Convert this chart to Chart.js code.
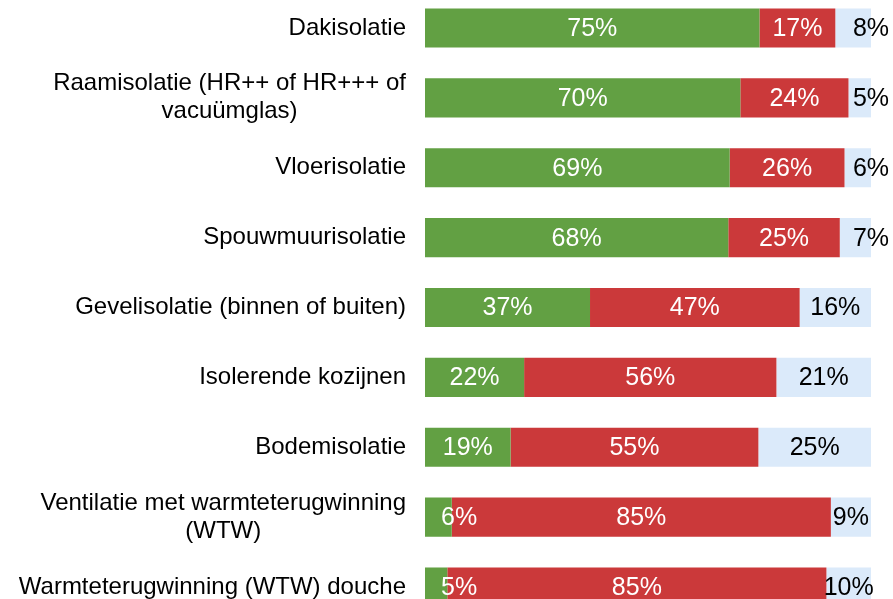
<!DOCTYPE html>
<html>
<head>
<meta charset="utf-8">
<script src="https://cdn.jsdelivr.net/npm/chart.js@4/dist/chart.umd.min.js"></script>
<style>
  html, body { margin: 0; padding: 0; background: #fff; overflow: hidden; }
  #wrap { position: absolute; left: 0; top: -7px; width: 893px; height: 629px; }
</style>
</head>
<body>
<div id="wrap"><canvas id="chart"></canvas></div>
<script>
// Categories (multi-line labels as arrays)
const categories = [
  'Dakisolatie',
  ['Raamisolatie (HR++ of HR+++ of', 'vacuümglas)'],
  'Vloerisolatie',
  'Spouwmuurisolatie',
  'Gevelisolatie (binnen of buiten)',
  'Isolerende kozijnen',
  'Bodemisolatie',
  ['Ventilatie met warmteterugwinning', '(WTW)'],
  'Warmteterugwinning (WTW) douche'
];

// Percentages as printed on the bars
const greenValues = [75, 70, 69, 68, 37, 22, 19, 6, 5];
const redValues   = [17, 24, 26, 25, 47, 56, 55, 85, 85];
const blueValues  = [8, 5, 6, 7, 16, 21, 25, 9, 10];

const COLORS = ['#62a043', '#cb393a', '#dbeafa'];
const LABEL_COLORS = ['#ffffff', '#ffffff', '#000000'];
const FONT = 'Liberation Sans, Arial, sans-serif';

// 100% stacked: each row scaled to its own total
const totals = greenValues.map((v, i) => v + redValues[i] + blueValues[i]);
const share = (arr) => arr.map((v, i) => v / totals[i] * 100);

const raw = [greenValues, redValues, blueValues];

// Category labels: right-aligned block, lines centered within the block
const categoryLabels = {
  id: 'categoryLabels',
  afterDraw(chart) {
    const { ctx, chartArea, scales } = chart;
    const y = scales.y;
    ctx.save();
    ctx.font = '24px ' + FONT;
    ctx.fillStyle = '#000';
    ctx.textBaseline = 'middle';
    ctx.textAlign = 'center';
    const right = chartArea.left - 19;
    const lineH = 28;
    categories.forEach((lab, i) => {
      const lines = Array.isArray(lab) ? lab : [lab];
      const maxW = Math.max(...lines.map(l => ctx.measureText(l).width));
      const cx = right - maxW / 2;
      const cy = y.getPixelForTick(i);
      const y0 = cy - (lines.length - 1) * lineH / 2;
      lines.forEach((l, k) => ctx.fillText(l, cx, y0 + k * lineH));
    });
    ctx.restore();
  }
};

// Value labels inside the segments
const valueLabels = {
  id: 'valueLabels',
  afterDatasetsDraw(chart) {
    const { ctx, chartArea } = chart;
    ctx.save();
    ctx.font = '25px ' + FONT;
    ctx.textBaseline = 'middle';
    chart.data.datasets.forEach((ds, di) => {
      const meta = chart.getDatasetMeta(di);
      meta.data.forEach((bar, i) => {
        const txt = raw[di][i] + '%';
        const left = Math.min(bar.base, bar.x);
        const right = Math.max(bar.base, bar.x);
        let x = (left + right) / 2;
        ctx.textAlign = 'center';
        // very narrow segments: label pushed out of the way
        if (right - left < 40) {
          if (di === 0) { ctx.textAlign = 'left'; x = left + 16; }
          else if (di === 2) { x = chartArea.right; }
        }
        ctx.fillStyle = LABEL_COLORS[di];
        ctx.fillText(txt, x, bar.y + 1);
      });
    });
    ctx.restore();
  }
};

new Chart(document.getElementById('chart'), {
  type: 'bar',
  data: {
    labels: categories,
    datasets: [
      { label: 'Ja', data: share(greenValues), backgroundColor: COLORS[0] },
      { label: 'Nee', data: share(redValues), backgroundColor: COLORS[1] },
      { label: 'Weet niet', data: share(blueValues), backgroundColor: COLORS[2] }
    ]
  },
  options: {
    indexAxis: 'y',
    responsive: true,
    maintainAspectRatio: false,
    animation: false,
    layout: { padding: { left: 425, right: 22, top: 0, bottom: 0 } },
    datasets: { bar: { barPercentage: 0.56, categoryPercentage: 1, borderWidth: 0 } },
    scales: {
      x: { stacked: true, min: 0, max: 100, display: false },
      y: { stacked: true, display: false }
    },
    plugins: {
      legend: { display: false },
      tooltip: { enabled: false }
    }
  },
  plugins: [categoryLabels, valueLabels]
});
</script>
</body>
</html>
